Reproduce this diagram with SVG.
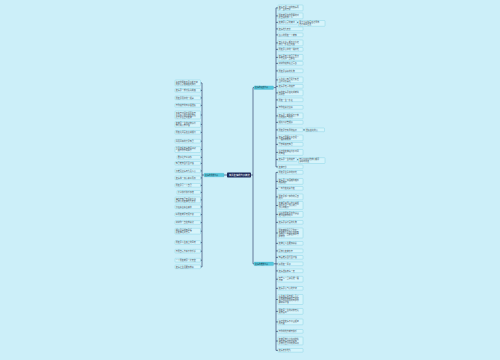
<svg xmlns="http://www.w3.org/2000/svg" width="500" height="360" viewBox="0 0 500 360">
<style>
.lf rect{fill:#d6f4fb;stroke:#6fcbe0;stroke-width:0.35}
.lt{font-family:"Noto Sans CJK SC","Noto Sans",sans-serif;font-size:2px;fill:#3a4a55}
.cn{stroke:#1c2a58;stroke-width:0.6;fill:none}
.br rect{fill:#55c7dc;stroke:#3aaecb;stroke-width:0.3}
.bt{font-family:"Noto Sans CJK SC","Noto Sans",sans-serif;font-size:1.9px;fill:#173040}
.ct{font-family:"Noto Sans CJK SC","Noto Sans",sans-serif;font-size:2.3px;fill:#ffffff}
</style>
<rect width="500" height="360" fill="#cceff9"/>
<g id="connectors" class="cn">
<line x1="227" y1="175" x2="224" y2="175"/>
<line x1="204" y1="175" x2="202" y2="175"/>
<line x1="202" y1="83" x2="202" y2="266.9"/>
<line x1="251" y1="175" x2="253" y2="175"/>
<line x1="253" y1="87.6" x2="253" y2="263.8"/>
<line x1="253" y1="87.6" x2="254" y2="87.6"/>
<line x1="253" y1="263.8" x2="254" y2="263.8"/>
<line x1="273.5" y1="87.6" x2="276" y2="87.6"/>
<line x1="273.5" y1="263.8" x2="276" y2="263.8"/>
<line x1="276" y1="7.9" x2="276" y2="166.9"/>
<line x1="276" y1="172.4" x2="276" y2="350.4"/>
<path d="M200.5 82.9H202M200.5 90.4H202M200.5 97.9H202M200.5 105.4H202M200.5 115H202M200.5 124.4H202M200.5 132.4H202M200.5 141.2H202M200.5 149.6H202M200.5 157.4H202M200.5 163.4H202M200.5 170.9H202M200.5 177.9H202M200.5 185.4H202M200.5 192.4H202M200.5 199.9H202M200.5 206.9H202M200.5 214.6H202M200.5 222.6H202M200.5 231.2H202M200.5 242.6H202M200.5 251.2H202M200.5 260.2H202M200.5 266.9H202"/>
<path d="M276 7.9H278M276 15.9H278M276 22.4H278M276 28.9H278M276 34.9H278M276 42.9H278M276 49.4H278M276 57.4H278M276 63.4H278M276 70.9H278M276 79.9H278M276 86.4H278M276 92.9H278M276 99.9H278M276 107.4H278M276 115.9H278M276 122.4H278M276 129.9H278M276 137.9H278M276 144.4H278M276 152.4H278M276 159.6H278M276 166.9H278"/>
<path d="M297 22.4H298.5M303 129.9H305M297 159.6H298.5"/>
<path d="M276 172.4H278M276 181.4H278M276 188.4H278M276 196.9H278M276 205.5H278M276 214.4H278M276 222.4H278M276 233H278M276 243.4H278M276 250.9H278M276 257.4H278M276 263.9H278M276 270.9H278M276 279.2H278M276 288.4H278M276 299.5H278M276 311.4H278M276 321.9H278M276 331.4H278M276 341H278M276 350.4H278"/>
</g>
<g id="center"><rect x="227" y="172.5" width="24" height="5" rx="0.8" fill="#1c2a5a"/><text class="ct" x="229" y="175.9">有关友情的句子精选</text></g>
<g id="branch-left" class="br"><rect x="204" y="173.3" width="20" height="3.5" rx="0.6"/><text class="bt" x="205" y="175.7">友情的优美句子</text></g>
<g id="branch-right-top" class="br"><rect x="254" y="85.9" width="19.5" height="3.5" rx="0.6"/><text class="bt" x="255" y="88.3">友情的经典句子</text></g>
<g id="branch-right-bottom" class="br"><rect x="254" y="262.1" width="19.5" height="3.5" rx="0.6"/><text class="bt" x="255" y="264.5">友情的唯美句子</text></g>

<g id="left-leaves" class="lf">
<g id="L1"><rect x="175" y="80" width="25.5" height="5.8" rx="0.6"/><text class="lt" x="175.8" y="82.5">真正的朋友不是形影不离</text><text class="lt" x="175.8" y="84.6">而是心灵相通彼此懂得</text></g>
<g id="L2"><rect x="175" y="88.5" width="25.5" height="3.7" rx="0.6"/><text class="lt" x="175.8" y="91">友情是一盏灯照亮前路</text></g>
<g id="L3"><rect x="175" y="96" width="25.5" height="3.7" rx="0.6"/><text class="lt" x="175.8" y="98.5">朋友是雨中的一把伞</text></g>
<g id="L4"><rect x="175" y="103.5" width="25.5" height="3.7" rx="0.6"/><text class="lt" x="175.8" y="106">有你陪伴的日子很温暖</text></g>
<g id="L5"><rect x="175" y="111" width="25.5" height="7.9" rx="0.6"/><text class="lt" x="175.8" y="113.5">不在于时间长短而在于</text><text class="lt" x="175.8" y="115.6">是否真心相待彼此信任</text><text class="lt" x="175.8" y="117.7">这才是真正的友谊</text></g>
<g id="L6"><rect x="175" y="121.5" width="25.5" height="5.8" rx="0.6"/><text class="lt" x="175.8" y="124">友谊是一生的财富值得</text><text class="lt" x="175.8" y="126.1">我们用心去珍惜</text></g>
<g id="L7"><rect x="175" y="130.5" width="25.5" height="3.7" rx="0.6"/><text class="lt" x="175.8" y="133">朋友之间贵在真诚相待</text></g>
<g id="L8"><rect x="175" y="139.3" width="25.5" height="3.7" rx="0.6"/><text class="lt" x="175.8" y="141.8">风雨同舟的才是知己</text></g>
<g id="L9"><rect x="175" y="146.7" width="25.5" height="5.8" rx="0.6"/><text class="lt" x="175.8" y="149.2">岁月流逝友情依旧如初</text><text class="lt" x="175.8" y="151.3">一路有你不再孤单</text></g>
<g id="L10"><rect x="177" y="155.5" width="23.5" height="3.7" rx="0.6"/><text class="lt" x="177.8" y="158">君子之交淡如水</text></g>
<g id="L11"><rect x="175" y="161.5" width="25.5" height="3.7" rx="0.6"/><text class="lt" x="175.8" y="164">知己难求且行且珍惜</text></g>
<g id="L12"><rect x="175" y="169" width="25.5" height="3.7" rx="0.6"/><text class="lt" x="175.8" y="171.5">患难见真情日久见人心</text></g>
<g id="L13"><rect x="175" y="176" width="25.5" height="3.7" rx="0.6"/><text class="lt" x="175.8" y="178.5">友情像一杯清茶淡而香</text></g>
<g id="L14"><rect x="175" y="183.5" width="25.5" height="3.7" rx="0.6"/><text class="lt" x="175.8" y="186">朋友是另一个自己</text></g>
<g id="L15"><rect x="177" y="190.5" width="23.5" height="3.7" rx="0.6"/><text class="lt" x="177.8" y="193">分享快乐快乐加倍</text></g>
<g id="L16"><rect x="175" y="197" width="25.5" height="5.8" rx="0.6"/><text class="lt" x="175.8" y="199.5">海内存知己天涯若比邻</text><text class="lt" x="175.8" y="201.6">愿我们的友谊地久天长</text></g>
<g id="L17"><rect x="175" y="205" width="25.5" height="3.7" rx="0.6"/><text class="lt" x="175.8" y="207.5">分担痛苦痛苦减半</text></g>
<g id="L18"><rect x="175" y="212.7" width="25.5" height="3.7" rx="0.6"/><text class="lt" x="175.8" y="215.2">好朋友就是无话不谈</text></g>
<g id="L19"><rect x="175" y="220.7" width="25.5" height="3.7" rx="0.6"/><text class="lt" x="175.8" y="223.2">谢谢你一直在我身边</text></g>
<g id="L20"><rect x="175" y="228.3" width="25.5" height="5.8" rx="0.6"/><text class="lt" x="175.8" y="230.8">相识是缘相知是福</text><text class="lt" x="175.8" y="232.9">愿友谊之树常青</text></g>
<g id="L21"><rect x="175" y="240.7" width="25.5" height="3.7" rx="0.6"/><text class="lt" x="175.8" y="243.2">朋友是人生路上的风景</text></g>
<g id="L22"><rect x="175" y="249.3" width="25.5" height="3.7" rx="0.6"/><text class="lt" x="175.8" y="251.8">有朋自远方来不亦乐乎</text></g>
<g id="L23"><rect x="175" y="258.3" width="25.5" height="3.7" rx="0.6"/><text class="lt" x="175.8" y="260.8">一个朋友就是一片天空</text></g>
<g id="L24"><rect x="175" y="265" width="25.5" height="3.7" rx="0.6"/><text class="lt" x="175.8" y="267.5">友情让生活更加美好</text></g>
</g>

<g id="right-top-leaves" class="lf">
<g id="R1"><rect x="278" y="5" width="25" height="5.8" rx="0.6"/><text class="lt" x="278.7" y="7.5">友情不是一时的热情而</text><text class="lt" x="278.7" y="9.6">是一生的守候</text></g>
<g id="R2"><rect x="278" y="13" width="25" height="5.8" rx="0.6"/><text class="lt" x="278.7" y="15.5">朋友就是在你需要的时</text><text class="lt" x="278.7" y="17.6">候出现的那个人</text></g>
<g id="R3"><rect x="278" y="20.5" width="19" height="3.7" rx="0.6"/><text class="lt" x="278.7" y="23">友谊是心灵的港湾</text></g>
<g id="R3c"><rect x="298.5" y="20.5" width="26.5" height="5.8" rx="0.6"/><text class="lt" x="299.2" y="23">累了可以停靠在这里休</text><text class="lt" x="299.2" y="25.1">息片刻再出发</text></g>
<g id="R4"><rect x="278" y="27" width="25" height="3.7" rx="0.6"/><text class="lt" x="278.7" y="29.5">友情地久天长</text></g>
<g id="R5"><rect x="278" y="33" width="25" height="3.7" rx="0.6"/><text class="lt" x="278.7" y="35.5">真心的朋友一个就够</text></g>
<g id="R6"><rect x="278" y="40" width="25" height="5.8" rx="0.6"/><text class="lt" x="278.7" y="42.5">无论走多远都不会忘记</text><text class="lt" x="278.7" y="44.6">我们一起走过的路</text></g>
<g id="R7"><rect x="278" y="47.5" width="25" height="3.7" rx="0.6"/><text class="lt" x="278.7" y="50">朋友是心中的一缕阳光</text></g>
<g id="R8"><rect x="278" y="54.5" width="25" height="5.8" rx="0.6"/><text class="lt" x="278.7" y="57">友情是天上的星星虽然</text><text class="lt" x="278.7" y="59.1">不常见却一直都在</text></g>
<g id="R9"><rect x="278" y="61.5" width="25" height="3.7" rx="0.6"/><text class="lt" x="278.7" y="64">谢谢你陪我走过青春</text></g>
<g id="R10"><rect x="278" y="69" width="25" height="3.7" rx="0.6"/><text class="lt" x="278.7" y="71.5">朋友是最好的礼物</text></g>
<g id="R11"><rect x="278" y="77" width="25" height="5.8" rx="0.6"/><text class="lt" x="278.7" y="79.5">人生得一知己足矣斯世</text><text class="lt" x="278.7" y="81.6">当以同怀视之</text></g>
<g id="R12"><rect x="278" y="84.5" width="25" height="3.7" rx="0.6"/><text class="lt" x="278.7" y="87">友情是无声的陪伴</text></g>
<g id="R13"><rect x="278" y="90" width="25" height="5.8" rx="0.6"/><text class="lt" x="278.7" y="92.5">好的友情是彼此成就共</text><text class="lt" x="278.7" y="94.6">同成长</text></g>
<g id="R14"><rect x="278" y="98" width="25" height="3.7" rx="0.6"/><text class="lt" x="278.7" y="100.5">朋友一生一起走</text></g>
<g id="R15"><rect x="278" y="105.5" width="25" height="3.7" rx="0.6"/><text class="lt" x="278.7" y="108">有你在身边真好</text></g>
<g id="R16"><rect x="278" y="113" width="25" height="5.8" rx="0.6"/><text class="lt" x="278.7" y="115.5">友情是一首歌唱出了我</text><text class="lt" x="278.7" y="117.6">们的快乐与忧伤</text></g>
<g id="R17"><rect x="278" y="120.5" width="25" height="3.7" rx="0.6"/><text class="lt" x="278.7" y="123">相逢何必曾相识</text></g>
<g id="R18"><rect x="278" y="128" width="25" height="3.7" rx="0.6"/><text class="lt" x="278.7" y="130.5">朋友是寒冬里的暖阳</text></g>
<g id="R18c"><rect x="305" y="128" width="19.5" height="3.7" rx="0.6"/><text class="lt" x="305.7" y="130.5">温暖彼此的心</text></g>
<g id="R19"><rect x="278" y="135" width="25" height="5.8" rx="0.6"/><text class="lt" x="278.7" y="137.5">友情不需要太多言语一</text><text class="lt" x="278.7" y="139.6">个眼神就能懂</text></g>
<g id="R20"><rect x="278" y="142.5" width="25" height="3.7" rx="0.6"/><text class="lt" x="278.7" y="145">莫愁前路无知己</text></g>
<g id="R21"><rect x="278" y="149.5" width="25" height="5.8" rx="0.6"/><text class="lt" x="278.7" y="152">真正的友谊经得起时间</text><text class="lt" x="278.7" y="154.1">的考验</text></g>
<g id="R22"><rect x="278" y="157.7" width="19" height="3.7" rx="0.6"/><text class="lt" x="278.7" y="160.2">友情是一生的陪伴</text></g>
<g id="R22c"><rect x="298.5" y="157.7" width="26.5" height="5.8" rx="0.6"/><text class="lt" x="299.2" y="160.2">无论何时何地我们都是</text><text class="lt" x="299.2" y="162.3">最好的朋友</text></g>
<g id="R23"><rect x="278" y="165" width="25" height="3.7" rx="0.6"/><text class="lt" x="278.7" y="167.5">友谊万岁</text></g>
</g>

<g id="right-bottom-leaves" class="lf">
<g id="B1"><rect x="278" y="170.5" width="25" height="3.7" rx="0.6"/><text class="lt" x="278.7" y="173">朋友是生命中的阳光</text></g>
<g id="B2"><rect x="278" y="178.5" width="25" height="5.8" rx="0.6"/><text class="lt" x="278.7" y="181">友情是一杯酒越陈越香</text><text class="lt" x="278.7" y="183.1">越品越醇</text></g>
<g id="B3"><rect x="278" y="186.5" width="25" height="3.7" rx="0.6"/><text class="lt" x="278.7" y="189">一日为友终身为友</text></g>
<g id="B4"><rect x="278" y="194" width="25" height="5.8" rx="0.6"/><text class="lt" x="278.7" y="196.5">朋友是那个懂你的沉默</text><text class="lt" x="278.7" y="198.6">的人</text></g>
<g id="B5"><rect x="278" y="201.5" width="25" height="7.9" rx="0.6"/><text class="lt" x="278.7" y="204">友谊是两颗心的真诚相</text><text class="lt" x="278.7" y="206.1">待而不是一颗心对另一</text><text class="lt" x="278.7" y="208.2">颗心的敲打</text></g>
<g id="B6"><rect x="278" y="211.5" width="25" height="5.8" rx="0.6"/><text class="lt" x="278.7" y="214">最好的朋友是在你最困</text><text class="lt" x="278.7" y="216.1">难时陪着你的人</text></g>
<g id="B7"><rect x="278" y="220.5" width="25" height="3.7" rx="0.6"/><text class="lt" x="278.7" y="223">友情是最珍贵的礼物</text></g>
<g id="B8"><rect x="278" y="228" width="25" height="10" rx="0.6"/><text class="lt" x="278.7" y="230.5">朋友就像是星星你不一</text><text class="lt" x="278.7" y="232.6">定总能看见他们但你知</text><text class="lt" x="278.7" y="234.7">道他们一直都在那里守</text><text class="lt" x="278.7" y="236.8">护着你</text></g>
<g id="B9"><rect x="278" y="241.5" width="25" height="3.7" rx="0.6"/><text class="lt" x="278.7" y="244">友谊让人生更加精彩</text></g>
<g id="B10"><rect x="278" y="249" width="25" height="3.7" rx="0.6"/><text class="lt" x="278.7" y="251.5">愿我们友谊长存</text></g>
<g id="B11"><rect x="278" y="255.5" width="25" height="3.7" rx="0.6"/><text class="lt" x="278.7" y="258">知音难觅且行且珍惜</text></g>
<g id="B12"><rect x="278" y="262" width="25" height="3.7" rx="0.6"/><text class="lt" x="278.7" y="264.5">好朋友一辈子</text></g>
<g id="B13"><rect x="278" y="269" width="25" height="3.7" rx="0.6"/><text class="lt" x="278.7" y="271.5">友情温暖着每一天</text></g>
<g id="B14"><rect x="278" y="276.3" width="25" height="5.8" rx="0.6"/><text class="lt" x="278.7" y="278.8">有些人一旦遇见便一眼</text><text class="lt" x="278.7" y="280.9">万年</text></g>
<g id="B15"><rect x="278" y="286.5" width="25" height="3.7" rx="0.6"/><text class="lt" x="278.7" y="289">友情是心与心的交流</text></g>
<g id="B16"><rect x="278" y="294.5" width="25" height="10" rx="0.6"/><text class="lt" x="278.7" y="297">人生路上总有那么几个</text><text class="lt" x="278.7" y="299.1">朋友陪你哭陪你笑陪你</text><text class="lt" x="278.7" y="301.2">走过风风雨雨的日子你</text><text class="lt" x="278.7" y="303.3">要好好珍惜</text></g>
<g id="B17"><rect x="278" y="308.5" width="25" height="5.8" rx="0.6"/><text class="lt" x="278.7" y="311">朋友是一生的财富无论</text><text class="lt" x="278.7" y="313.1">贫富贵贱</text></g>
<g id="B18"><rect x="278" y="319" width="25" height="5.8" rx="0.6"/><text class="lt" x="278.7" y="321.5">真正的友情不会因距离</text><text class="lt" x="278.7" y="323.6">而改变</text></g>
<g id="B19"><rect x="278" y="329.5" width="25" height="3.7" rx="0.6"/><text class="lt" x="278.7" y="332">有你的地方就有快乐</text></g>
<g id="B20"><rect x="278" y="337" width="25" height="7.9" rx="0.6"/><text class="lt" x="278.7" y="339.5">友谊是我们哀伤时的缓</text><text class="lt" x="278.7" y="341.6">和剂激情时的舒解剂</text><text class="lt" x="278.7" y="343.7">是我们压力时的流泻口</text></g>
<g id="B21"><rect x="278" y="348.5" width="25" height="3.7" rx="0.6"/><text class="lt" x="278.7" y="351">友情天长地久</text></g>
</g>
</svg>
